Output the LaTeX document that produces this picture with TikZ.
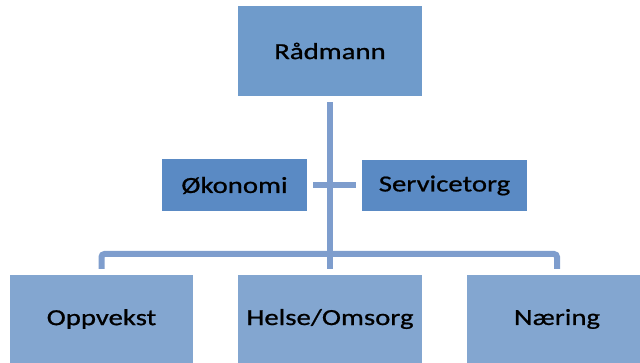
\documentclass[tikz,border=0pt]{standalone}
\usepackage{fontspec}
\setmainfont[FakeStretch=1.25, FakeBold=0.8]{Carlito}
\usepackage{tikz}
\usetikzlibrary{positioning, calc}
\definecolor{TopBlaa}{RGB}{111,155,203}
\definecolor{StabBlaa}{RGB}{90,138,196}
\definecolor{EtatBlaa}{RGB}{131,166,208}
\definecolor{LinjeBlaa}{RGB}{126,157,205}

\begin{document}
\begin{tikzpicture}[x=1pt, y=-1pt,
    boks/.style={shape=rectangle, inner sep=0pt, text=black,
                 font=\fontsize{23}{28}\selectfont},
    link/.style={line width=6pt, LinjeBlaa, shorten <=6pt, shorten >=6pt}]
    \useasboundingbox (0,0) rectangle (640,363);
    \clip (0,0) rectangle (640,363);
    \node[boks, fill=TopBlaa, minimum width=184, minimum height=90]  (raadmann)    at (330, 51)    {Rådmann};
    \node[boks, fill=StabBlaa, minimum width=145, minimum height=52] (okonomi)     at (234.5,185.5) {Økonomi};
    \node[boks, fill=StabBlaa, minimum width=165, minimum height=51] (servicetorg) at (444.5,185.5) {Servicetorg};
    \node[boks, fill=EtatBlaa, minimum width=183, minimum height=88] (oppvekst)    at (101.5,319)  {Oppvekst};
    \node[boks, fill=EtatBlaa, minimum width=184, minimum height=88] (helse)       at (330, 319)   {Helse/Omsorg};
    \node[boks, fill=EtatBlaa, minimum width=180, minimum height=88] (naering)     at (557, 319)   {Næring};
    \coordinate (hub) at (330,254);
    \path[link] (raadmann) edge (helse);
    \path[link] (okonomi)  edge (servicetorg);
    \draw[link, rounded corners=3pt] (oppvekst.north) |- (hub) -| (naering.north);
\end{tikzpicture}
\end{document}
